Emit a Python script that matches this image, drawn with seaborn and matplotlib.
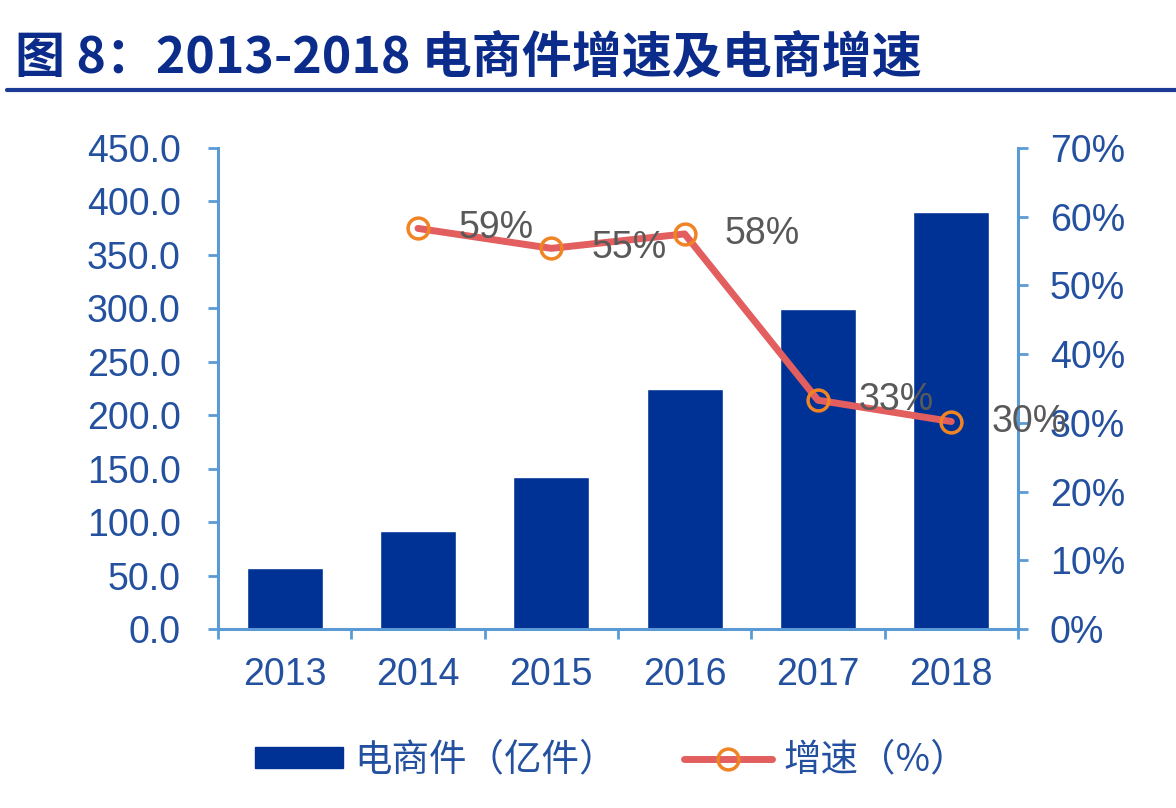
# ===============================
# 2013-2018 电商件 & 增速 chart
# ===============================
import numpy as np
import pandas as pd
import matplotlib
matplotlib.use("Agg")
import matplotlib.pyplot as plt
import seaborn as sns
from matplotlib.lines import Line2D
from matplotlib.patches import Patch
from matplotlib.ticker import MultipleLocator, FuncFormatter, FixedLocator

# -------------------------------
# Data
# -------------------------------
years = ["2013", "2014", "2015", "2016", "2017", "2018"]
parcels = [57.2, 92.0, 142.5, 225.0, 299.0, 390.0]      # 亿件
growth_years = ["2014", "2015", "2016", "2017", "2018"]
growth = [0.583, 0.554, 0.575, 0.333, 0.302]             # 增速
growth_labels = ["59%", "55%", "58%", "33%", "30%"]

title = "图 8：2013-2018 电商件增速及电商增速"
bar_name = "电商件（亿件）"
line_name = "增速（%）"

# -------------------------------
# Style
# -------------------------------
sns.set_style("white")
plt.rcParams["font.family"] = ["Liberation Sans", "Noto Sans CJK SC", "DejaVu Sans"]

bar_color = "#003296"
line_color = "#e35e5e"
marker_color = "#f08424"
axis_color = "#5b9bd5"
tick_text = "#2450a0"
label_text = "#595959"
title_color = "#0c2c8c"

df = pd.DataFrame({"year": years, "parcels": parcels})
pos = {y: i for i, y in enumerate(years)}
gdf = pd.DataFrame({"x": [pos[y] for y in growth_years], "growth": growth})

fig = plt.figure(figsize=(11.76, 8.08), dpi=100)
ax = fig.add_axes([0.1854, 0.2215, 0.8656 - 0.1854, 0.8168 - 0.2215])

# ---------- Bars ----------
sns.barplot(data=df, x="year", y="parcels", color=bar_color, width=0.57,
            saturation=1, ax=ax)
ax.set_xlim(-0.5, len(years) - 0.5)
ax.set_ylim(0, 450)
ax.yaxis.set_major_locator(MultipleLocator(50))
ax.yaxis.set_major_formatter(FuncFormatter(lambda v, p: f"{v:.1f}"))
ax.set_xlabel("")
ax.set_ylabel("")

# ---------- Line on twin axis ----------
ax2 = ax.twinx()
sns.lineplot(data=gdf, x="x", y="growth", ax=ax2, color=line_color,
             linewidth=5, marker="o", markersize=15, markerfacecolor="none",
             markeredgecolor=marker_color, markeredgewidth=2.5)
ax2.set_ylim(0, 0.7)
ax2.yaxis.set_major_locator(MultipleLocator(0.1))
ax2.yaxis.set_major_formatter(FuncFormatter(lambda v, p: f"{v*100:.0f}%"))
ax2.set_xlim(-0.5, len(years) - 0.5)
ax2.set_xlabel("")
ax2.set_ylabel("")

for x, g, lab in zip(gdf["x"], gdf["growth"], growth_labels):
    ax2.annotate(lab, (x, g), xytext=(29, 0), textcoords="offset points",
                 ha="left", va="center", fontsize=27, color=label_text)

# ---------- Spines & ticks ----------
for a in (ax, ax2):
    for s in a.spines.values():
        s.set_visible(False)
ax.spines["left"].set_visible(True)
ax.spines["bottom"].set_visible(True)
ax2.spines["right"].set_visible(True)
for s in (ax.spines["left"], ax.spines["bottom"], ax2.spines["right"]):
    s.set_color(axis_color)
    s.set_linewidth(2.2)

ax.tick_params(axis="y", length=7, width=2, color=axis_color, pad=20,
               labelsize=27, labelcolor=tick_text, left=True)
ax2.tick_params(axis="y", length=7, width=2, color=axis_color, pad=16,
                labelsize=27, labelcolor=tick_text, right=True)
ax.tick_params(axis="x", which="major", length=0, pad=20,
               labelsize=27, labelcolor=tick_text)
ax.xaxis.set_minor_locator(FixedLocator(np.arange(-0.5, len(years), 1.0)))
ax.tick_params(axis="x", which="minor", length=7, width=2, color=axis_color,
               bottom=True)

# ---------- Legend ----------
handles = [
    Patch(facecolor=bar_color, edgecolor=bar_color),
    Line2D([0], [0], color=line_color, linewidth=5, marker="o", markersize=15,
           markerfacecolor="none", markeredgecolor=marker_color,
           markeredgewidth=2.5),
]
leg = fig.legend(handles, [bar_name, line_name], loc="center",
                 bbox_to_anchor=(0.520, 0.059), ncol=2, frameon=False,
                 fontsize=27, handlelength=2.35, handleheight=0.47,
                 handletextpad=0.3, columnspacing=1.8)
for t in leg.get_texts():
    t.set_color(tick_text)
    t.set_family(["Noto Sans CJK SC"])

# ---------- Title ----------
fig.text(0.013, 0.928, title, fontsize=36, fontweight="bold",
         color=title_color, ha="left", va="center",
         family=["Noto Sans CJK SC"])
fig.add_artist(Line2D([0.006, 1.0], [0.889, 0.889], transform=fig.transFigure,
                      color="#1a3a96", linewidth=3))

fig.savefig("out.png", dpi=100)
